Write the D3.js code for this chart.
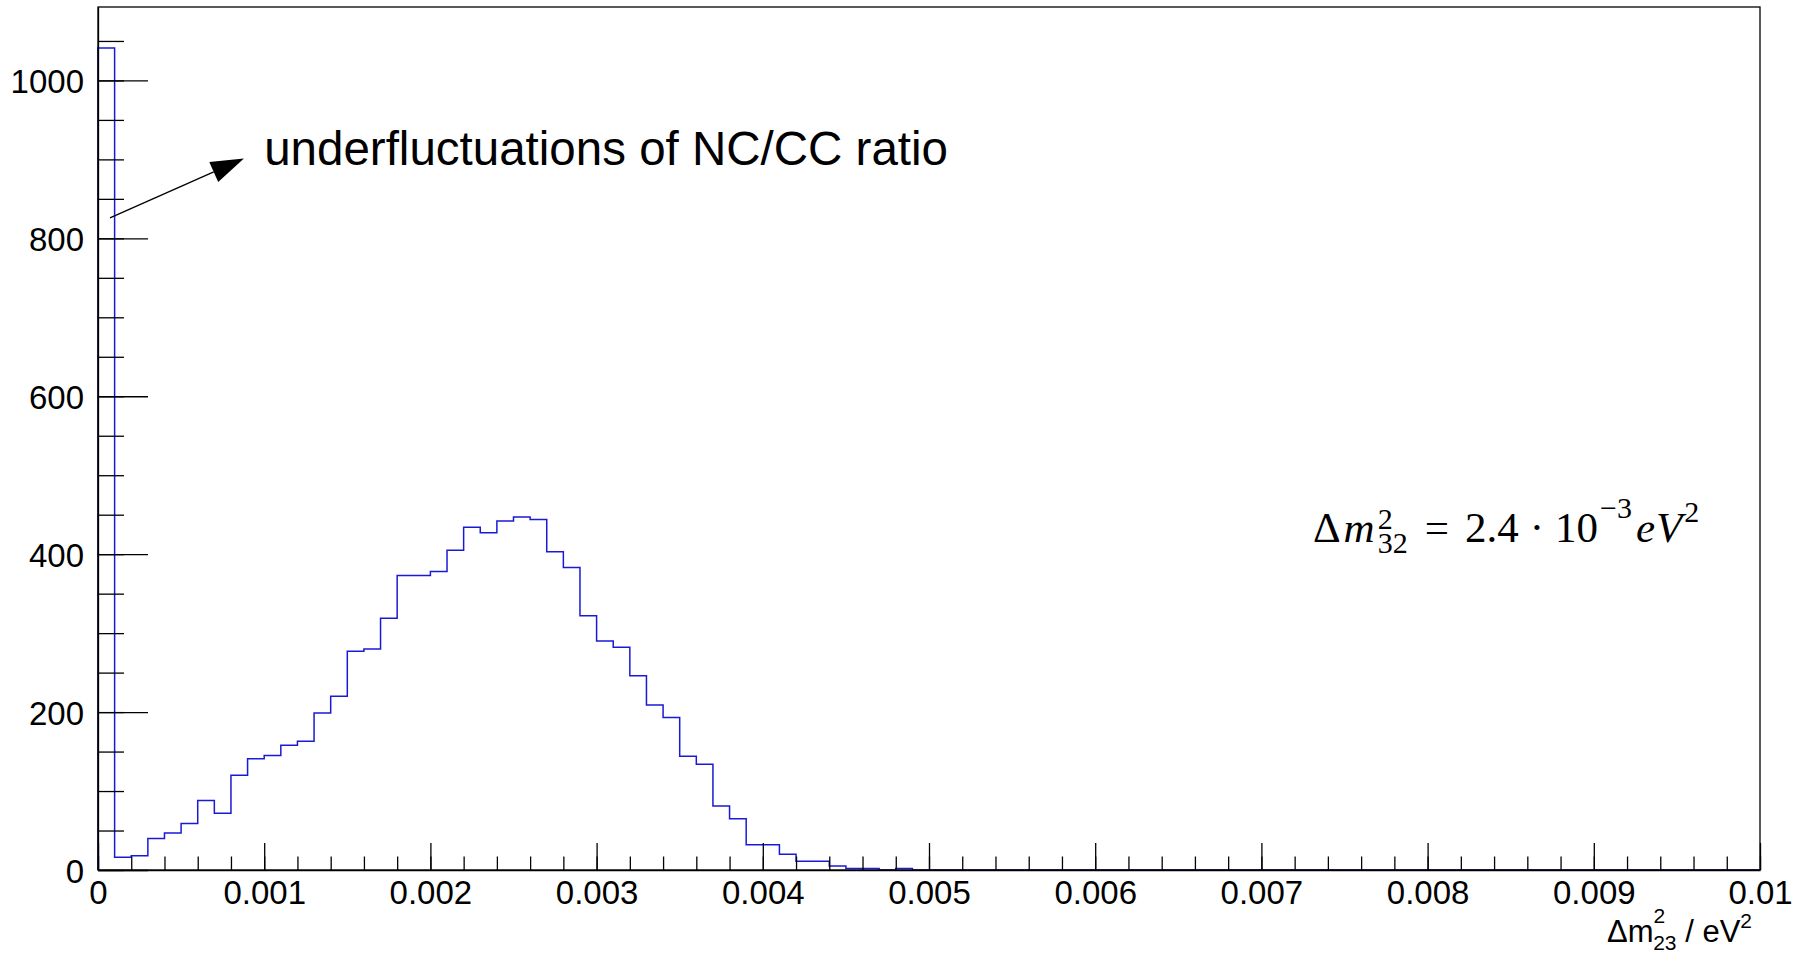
<!DOCTYPE html>
<html>
<head>
<meta charset="utf-8">
<script src="https://cdn.jsdelivr.net/npm/d3@7"></script>
<style>
  body { margin: 0; background: #fff; }
  .axis text { font-family: "Liberation Sans", Arial, sans-serif; font-size: 33px; fill: #000; }
  .axis line, .axis path { stroke: #000; stroke-width: 1.3; }
</style>
</head>
<body>
<div class="chart"></div>
<script>
var svgWidth = 1807;
var svgHeight = 953;

var margin = { top: 7, right: 47, bottom: 83, left: 98 };
var width = svgWidth - margin.left - margin.right;
var height = svgHeight - margin.top - margin.bottom;

// histogram: 100 bins from 0 to 0.01 (eV^2), counts
var binLow = 0;
var binHigh = 0.01;
var binCounts = [
  1041, 16, 18, 40, 47, 59, 88, 72, 120, 141,
  145, 158, 163, 199, 220, 277, 280, 319, 373, 373,
  378, 405, 434, 427, 442, 447, 444, 403, 383, 322,
  290, 282, 246, 209, 193, 144, 134, 81, 65, 32,
  32, 20, 11, 11, 5, 2, 2, 0, 2, 0,
  0, 0, 0, 0, 0, 0, 0, 0, 0, 0,
  0, 0, 0, 0, 0, 0, 0, 0, 0, 0,
  0, 0, 0, 0, 0, 0, 0, 0, 0, 0,
  0, 0, 0, 0, 0, 0, 0, 0, 0, 0,
  0, 0, 0, 0, 0, 0, 0, 0, 0, 0
];
var yMax = 1093;

// ticks
var xTickValues = [0, 0.001, 0.002, 0.003, 0.004, 0.005, 0.006, 0.007, 0.008, 0.009, 0.01];
var xTickLabels = ["0", "0.001", "0.002", "0.003", "0.004", "0.005", "0.006", "0.007", "0.008", "0.009", "0.01"];
var yTickValues = [0, 200, 400, 600, 800, 1000];
var yTickLabels = ["0", "200", "400", "600", "800", "1000"];
var xMinorStep = 0.0002;
var yMinorStep = 50;

var svg = d3.select(".chart")
  .append("svg")
  .attr("width", svgWidth)
  .attr("height", svgHeight);

svg.append("rect").attr("width", svgWidth).attr("height", svgHeight).attr("fill", "#fff");

var chartGroup = svg.append("g")
  .attr("transform", `translate(${margin.left}, ${margin.top})`);

var xScale = d3.scaleLinear().domain([binLow, binHigh]).range([0, width]);
var yScale = d3.scaleLinear().domain([0, yMax]).range([height, 0]);

var binWidth = (binHigh - binLow) / binCounts.length;
var pts = [[binLow, 0]];
binCounts.forEach(function(c, i) { pts.push([binLow + i * binWidth, c]); });
pts.push([binHigh, binCounts[binCounts.length - 1]]);
pts.push([binHigh, 0]);

var histLine = d3.line()
  .x(d => xScale(d[0]))
  .y(d => yScale(d[1]))
  .curve(d3.curveStepAfter);

chartGroup.append("path")
  .datum(pts)
  .attr("d", histLine)
  .attr("fill", "none")
  .attr("stroke", "#1a1ad6")
  .attr("stroke-width", 1.5);

// minor ticks
chartGroup.append("g")
  .attr("class", "axis")
  .attr("transform", `translate(0, ${height})`)
  .call(d3.axisBottom(xScale)
    .tickValues(d3.range(0, binHigh + 1e-9, xMinorStep))
    .tickSizeInner(-13.5).tickSizeOuter(0).tickFormat(""))
  .select(".domain").remove();

chartGroup.append("g")
  .attr("class", "axis")
  .call(d3.axisLeft(yScale)
    .tickValues(d3.range(0, yMax, yMinorStep))
    .tickSizeInner(-26).tickSizeOuter(0).tickFormat(""))
  .select(".domain").remove();

// major ticks + labels
chartGroup.append("g")
  .attr("class", "axis")
  .attr("transform", `translate(0, ${height})`)
  .call(d3.axisBottom(xScale)
    .tickValues(xTickValues)
    .tickSizeInner(-27).tickSizeOuter(0).tickPadding(11)
    .tickFormat((d, i) => xTickLabels[i]));

chartGroup.append("g")
  .attr("class", "axis")
  .call(d3.axisLeft(yScale)
    .tickValues(yTickValues)
    .tickSizeInner(-50).tickSizeOuter(0).tickPadding(14)
    .tickFormat((d, i) => yTickLabels[i]))
  .selectAll("text").attr("dy", "0.37em");

// frame
chartGroup.append("rect")
  .attr("width", width)
  .attr("height", height)
  .attr("fill", "none")
  .attr("stroke", "#000")
  .attr("stroke-width", 1.3);

// arrow annotation
var arrowFrom = [0.0000722, 826];
var arrowTo = [0.000878, 901];
var x1 = xScale(arrowFrom[0]), y1 = yScale(arrowFrom[1]);
var x2 = xScale(arrowTo[0]), y2 = yScale(arrowTo[1]);
var ang = Math.atan2(y2 - y1, x2 - x1);
var headLen = 33, headHalf = 11;
var bx = x2 - headLen * Math.cos(ang), by = y2 - headLen * Math.sin(ang);

chartGroup.append("line")
  .attr("x1", x1).attr("y1", y1)
  .attr("x2", bx).attr("y2", by)
  .attr("stroke", "#000").attr("stroke-width", 1.3);

chartGroup.append("polygon")
  .attr("points", [
    [x2, y2],
    [bx + headHalf * Math.sin(ang), by - headHalf * Math.cos(ang)],
    [bx - headHalf * Math.sin(ang), by + headHalf * Math.cos(ang)]
  ].map(p => p.join(",")).join(" "))
  .attr("fill", "#000");

chartGroup.append("text")
  .attr("x", xScale(0.001))
  .attr("y", yScale(893))
  .style("font-family", "'Liberation Sans', Arial, sans-serif")
  .style("font-size", "47.5px")
  .text("underfluctuations of NC/CC ratio");

// formula
var f = chartGroup.append("text")
  .attr("x", xScale(0.00731))
  .attr("y", yScale(416))
  .style("font-family", "'Liberation Serif', 'Times New Roman', serif")
  .style("font-size", "43px");
f.append("tspan").text("Δ");
f.append("tspan").style("font-style", "italic").attr("dx", 3).text("m");
f.append("tspan").style("font-size", "30px").attr("dx", 3).attr("dy", -13).text("2");
f.append("tspan").style("font-size", "30px").attr("dx", -15).attr("dy", 24).text("32");
f.append("tspan").attr("dx", 17).attr("dy", -11).text("=");
f.append("tspan").attr("dx", 16).text("2.4");
f.append("tspan").attr("dx", 11).text("·");
f.append("tspan").attr("dx", 11).text("10");
f.append("tspan").style("font-size", "30px").attr("dx", 2).attr("dy", -24).text("−3");
f.append("tspan").style("font-style", "italic").attr("dx", 4).attr("dy", 24).text("e");
f.append("tspan").style("font-style", "italic").attr("dx", 1).text("V");
f.append("tspan").style("font-size", "30px").attr("dx", 2).attr("dy", -20).text("2");

// x axis title
var t = svg.append("text")
  .attr("x", 1752)
  .attr("y", 942)
  .attr("text-anchor", "end")
  .style("font-family", "'Liberation Sans', Arial, sans-serif")
  .style("font-size", "31px");
t.append("tspan").text("Δm");
t.append("tspan").style("font-size", "21px").attr("dy", -19).text("2");
t.append("tspan").style("font-size", "21px").attr("dx", -12).attr("dy", 27).text("23");
t.append("tspan").attr("dy", -8).text(" / eV");
t.append("tspan").style("font-size", "21px").attr("dy", -14).text("2");
</script>
</body>
</html>
